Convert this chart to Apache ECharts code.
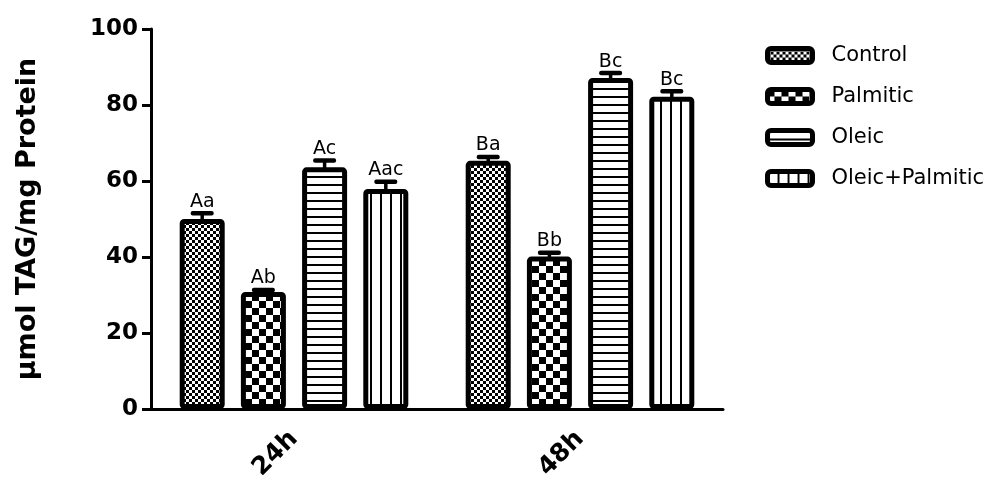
<!DOCTYPE html>
<html>
<head>
<meta charset="utf-8">
<script src="https://cdn.jsdelivr.net/npm/echarts@6/dist/echarts.min.js"></script>
<style>
  html, body { margin: 0; padding: 0; background: #fff; }
  #chart { width: 993px; height: 479px; }
</style>
</head>
<body>
<div id="chart"></div>
<script>
// Time points and treatment groups
const categories = ['24h', '48h'];
const seriesNames = ['Control', 'Palmitic', 'Oleic', 'Oleic+Palmitic'];

// Mean TAG content (µmol/mg protein) and SEM per group
const controlMean = [50.0, 65.3];
const controlSem = [1.5, 1.0];
const palmiticMean = [30.8, 40.1];
const palmiticSem = [0.5, 1.0];
const oleicMean = [63.6, 87.1];
const oleicSem = [1.8, 1.3];
const oleicPalmiticMean = [57.9, 82.2];
const oleicPalmiticSem = [1.9, 1.4];

// Significance letters written above each bar
const controlLetters = ['Aa', 'Ba'];
const palmiticLetters = ['Ab', 'Bb'];
const oleicLetters = ['Ac', 'Bc'];
const oleicPalmiticLetters = ['Aac', 'Bc'];

const means = [controlMean, palmiticMean, oleicMean, oleicPalmiticMean];
const sems = [controlSem, palmiticSem, oleicSem, oleicPalmiticSem];
const letters = [controlLetters, palmiticLetters, oleicLetters, oleicPalmiticLetters];

const FONT = '"DejaVu Sans", "Liberation Sans", sans-serif';
const BAR_WIDTH = 45;
const BAR_GAP = 0.36;
const STEP = BAR_WIDTH * (1 + BAR_GAP);

// Black-and-white fill patterns
function makePattern(w, h, draw) {
  const c = document.createElement('canvas');
  c.width = w; c.height = h;
  const g = c.getContext('2d');
  g.fillStyle = '#fff';
  g.fillRect(0, 0, w, h);
  g.fillStyle = '#000';
  draw(g);
  return { image: c, repeat: 'repeat' };
}
const patterns = [
  makePattern(6, 6, g => { g.fillRect(0, 0, 3, 3); g.fillRect(3, 3, 3, 3); }),
  makePattern(14, 14, g => { g.fillRect(0, 0, 7, 7); g.fillRect(7, 7, 7, 7); }),
  makePattern(8, 8, g => { g.fillRect(0, 0, 8, 2); }),
  makePattern(10, 10, g => { g.fillRect(0, 0, 2, 10); })
];

const barSeries = seriesNames.map((name, i) => ({
  name,
  type: 'bar',
  data: means[i],
  barWidth: BAR_WIDTH,
  barGap: Math.round(BAR_GAP * 100) + '%',
  itemStyle: {
    color: patterns[i],
    borderColor: '#000',
    borderWidth: 5,
    borderRadius: 2
  },
  emphasis: { disabled: true },
  z: 2
}));

// Error bars (upper half) with the letter labels
const errData = [];
const errLetters = [];
seriesNames.forEach((n, s) => {
  categories.forEach((c, k) => {
    errData.push([k, means[s][k], sems[s][k], s]);
    errLetters.push(letters[s][k]);
  });
});

const errorSeries = {
  type: 'custom',
  name: 'sem',
  data: errData,
  encode: { x: 0, y: 1 },
  z: 5,
  silent: true,
  renderItem(params, api) {
    const cat = api.value(0), mean = api.value(1), sem = api.value(2), s = api.value(3);
    const base = api.coord([cat, mean]);
    const top = api.coord([cat, mean + sem]);
    const x = base[0] + (s - 1.5) * STEP;
    return {
      type: 'group',
      children: [
        { type: 'rect', shape: { x: x - 1.75, y: top[1], width: 3.5, height: base[1] - top[1] + 2 }, style: { fill: '#000' } },
        { type: 'rect', shape: { x: x - 11.5, y: top[1] - 2.25, width: 23, height: 4.5, r: 2 }, style: { fill: '#000' } },
        { type: 'text', style: { text: errLetters[params.dataIndex], x: x, y: top[1] - 2, align: 'center', verticalAlign: 'bottom', fontFamily: FONT, fontSize: 19, fill: '#000' } }
      ]
    };
  }
};

const chart = echarts.init(document.getElementById('chart'), null, { renderer: 'canvas' });
chart.setOption({
  animation: false,
  backgroundColor: '#fff',
  grid: { left: 151, right: 270, top: 29, bottom: 70, containLabel: false, outerBoundsMode: 'none' },
  legend: {
    data: seriesNames,
    orient: 'vertical',
    left: 760,
    top: 40,
    itemWidth: 45,
    itemHeight: 14,
    itemGap: 20,
    icon: 'roundRect',
    itemStyle: { borderColor: '#000', borderWidth: 5 },
    textStyle: { fontFamily: FONT, fontSize: 21, color: '#000', padding: [0, 0, 0, 14] },
    selectedMode: false
  },
  xAxis: {
    type: 'category',
    data: categories,
    axisLine: { lineStyle: { color: '#000', width: 3 } },
    axisTick: { alignWithLabel: true, length: 8, lineStyle: { color: '#000', width: 3 } },
    axisLabel: { rotate: 45, margin: 26, fontFamily: FONT, fontWeight: 'bold', fontSize: 25, color: '#000' }
  },
  yAxis: {
    type: 'value',
    min: 0,
    max: 100,
    interval: 20,
    name: 'µmol TAG/mg Protein',
    nameLocation: 'middle',
    nameRotate: 90,
    nameGap: 110,
    nameTextStyle: { fontFamily: FONT, fontWeight: 'bold', fontSize: 27, color: '#000' },
    splitLine: { show: false },
    axisLine: { show: true, lineStyle: { color: '#000', width: 3 } },
    axisTick: { show: true, length: 9, lineStyle: { color: '#000', width: 3 } },
    axisLabel: { margin: 13, fontFamily: FONT, fontWeight: 'bold', fontSize: 23, color: '#000' }
  },
  series: [...barSeries, errorSeries]
});
</script>
</body>
</html>
